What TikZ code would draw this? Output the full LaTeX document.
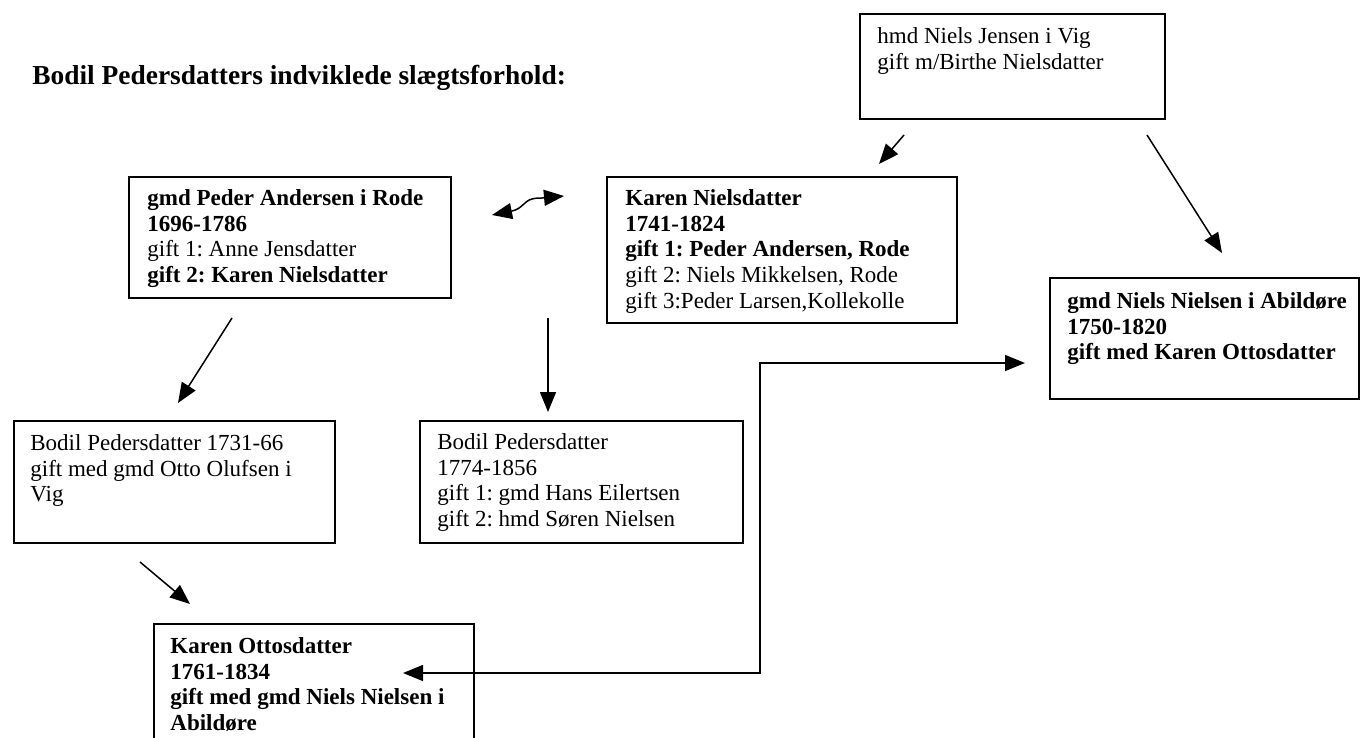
\documentclass[tikz,border=0pt]{standalone}
\usepackage{fontspec}
\setmainfont{Liberation Serif}
\usetikzlibrary{arrows.meta}
\frenchspacing
\begin{document}
\begin{tikzpicture}[x=0.5pt,y=-0.5pt,
  box/.style={draw, line width=0.8pt, rectangle, inner sep=0pt, anchor=north west},
  txt/.style={anchor=north west, inner sep=0pt, align=left, font=\fontsize{11.5}{12.85}\selectfont},
  conn/.style={line width=0.75pt, -{Triangle[length=10pt,width=8pt]}},
  dconn/.style={line width=0.75pt, {Triangle[length=10pt,width=8pt]}-{Triangle[length=10pt,width=8pt]}},
]
\useasboundingbox (0,0) rectangle (1360,738);

% title
\node[anchor=base west, inner sep=0pt, font=\fontsize{13.7}{15.5}\selectfont\bfseries] (title) at (32,85) {Bodil Pedersdatters indviklede slægtsforhold:};

% boxes
\node[box, minimum width=161pt, minimum height=60.5pt] (A) at (128,176) {};
\node[box, minimum width=175pt, minimum height=73pt] (B) at (606,176) {};
\node[box, minimum width=152.5pt, minimum height=52.5pt] (C) at (859,13) {};
\node[box, minimum width=154.5pt, minimum height=60.5pt] (D) at (1049,277) {};
\node[box, minimum width=160.5pt, minimum height=61pt] (E) at (13,420) {};
\node[box, minimum width=161.5pt, minimum height=61pt] (F) at (419,420) {};
\node[box, minimum width=160pt, minimum height=60pt] (G) at (153,623) {};

% texts
\node[txt] (At) at (147,189) {\textbf{gmd Peder Andersen i Rode}\\\textbf{1696-1786}\\gift 1: Anne Jensdatter\\\textbf{gift 2: Karen Nielsdatter}};
\node[txt] (Bt) at (625,189) {\textbf{Karen Nielsdatter}\\\textbf{1741-1824}\\\textbf{gift 1: Peder Andersen, Rode}\\gift 2: Niels Mikkelsen, Rode\\gift 3:Peder Larsen,Kollekolle};
\node[txt] (Ct) at (877,27) {hmd Niels Jensen i Vig\\gift m/Birthe Nielsdatter};
\node[txt] (Dt) at (1067,292) {\textbf{gmd Niels Nielsen i Abildøre}\\\textbf{1750-1820}\\\textbf{gift med Karen Ottosdatter}};
\node[txt] (Et) at (30,434) {Bodil Pedersdatter 1731-66\\gift med gmd Otto Olufsen i\\Vig};
\node[txt] (Ft) at (437,433) {Bodil Pedersdatter\\1774-1856\\gift 1: gmd Hans Eilertsen\\gift 2: hmd Søren Nielsen};
\node[txt] (Gt) at (170,637) {\textbf{Karen Ottosdatter}\\\textbf{1761-1834}\\\textbf{gift med gmd Niels Nielsen i}\\\textbf{Abildøre}};

% connector end points
\coordinate (c1s) at (904,135);
\coordinate (c1e) at (879,164);
\coordinate (c2s) at (1147,135);
\coordinate (c2e) at (1222,253);
\coordinate (a1s) at (232,318);
\coordinate (a1e) at (178,403);
\coordinate (b1s) at (548,318);
\coordinate (b1e) at (548,412);
\coordinate (e1s) at (140,562);
\coordinate (e1e) at (190,604);
\coordinate (gL) at (403,673);
\coordinate (elb1) at (760,673);
\coordinate (elb2) at (760,363);
\coordinate (dR) at (1025,363);
\coordinate (wL) at (492,215);
\coordinate (wR) at (564,196);

% connectors
\draw[conn] (c1s) -- (c1e);
\draw[conn] (c2s) -- (c2e);
\draw[conn] (a1s) -- (a1e);
\draw[conn] (b1s) -- (b1e);
\draw[conn] (e1s) -- (e1e);
\draw[dconn] (gL) -- (elb1) -- (elb2) -- (dR);
\draw[dconn] (wL) -- (512,211) .. controls (522,209) and (524,201) .. (532,199) .. controls (536,198) and (538,198) .. (542,198) -- (wR);
\end{tikzpicture}
\end{document}
